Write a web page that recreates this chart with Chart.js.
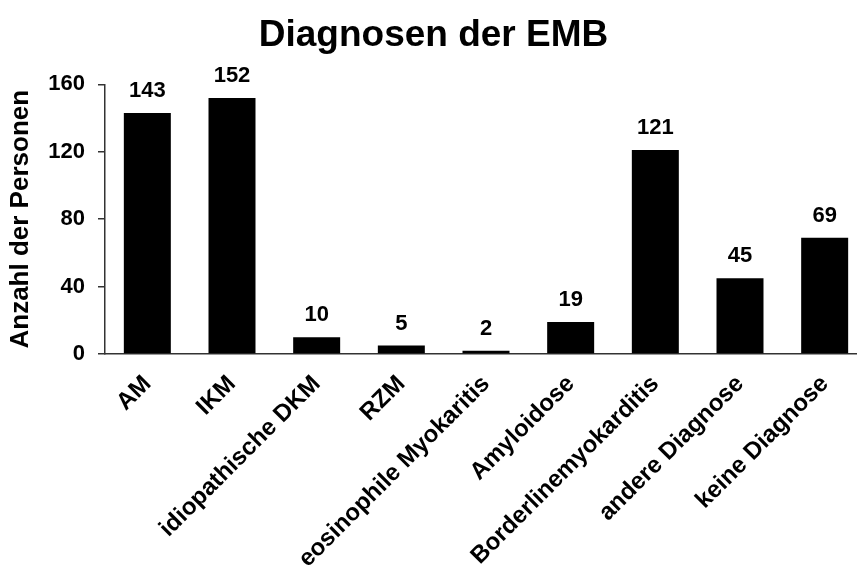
<!DOCTYPE html>
<html>
<head>
<meta charset="utf-8">
<script src="https://cdn.jsdelivr.net/npm/chart.js@4/dist/chart.umd.min.js"></script>
<style>
  html, body { margin: 0; padding: 0; background: #fff; overflow: hidden; }
  #wrap { width: 870px; height: 566px; }
</style>
</head>
<body>
<div id="wrap"><canvas id="c" width="870" height="566"></canvas></div>
<script>
// Diagnoses from endomyocardial biopsy (EMB)
const categories = [
  "AM",
  "IKM",
  "idiopathische DKM",
  "RZM",
  "eosinophile Myokaritis",
  "Amyloidose",
  "Borderlinemyokarditis",
  "andere Diagnose",
  "keine Diagnose"
];
const counts = [143, 152, 10, 5, 2, 19, 121, 45, 69];
const yTicks = [0, 40, 80, 120, 160];

const FONT = "'Liberation Sans', Arial, sans-serif";

// Writes each bar's count above it
const valueLabels = {
  id: 'valueLabels',
  afterDatasetsDraw(chart) {
    const ctx = chart.ctx;
    const meta = chart.getDatasetMeta(0);
    ctx.save();
    ctx.font = `bold 22px ${FONT}`;
    ctx.fillStyle = '#000';
    ctx.textAlign = 'center';
    ctx.textBaseline = 'alphabetic';
    meta.data.forEach((bar, i) => {
      ctx.fillText(String(counts[i]), bar.x, bar.y - 16);
    });
    ctx.restore();
  }
};

new Chart(document.getElementById('c'), {
  type: 'bar',
  data: {
    labels: categories,
    datasets: [{
      data: counts,
      backgroundColor: '#000',
      borderWidth: 0,
      barPercentage: 0.555,
      categoryPercentage: 1
    }]
  },
  options: {
    responsive: false,
    animation: false,
    layout: { padding: { left: 0, right: 3, top: 0, bottom: 0 } },
    plugins: {
      legend: { display: false },
      tooltip: { enabled: false },
      title: {
        display: true,
        text: 'Diagnosen der EMB',
        color: '#000',
        font: { family: FONT, size: 37, weight: 'bold', lineHeight: 1.2 },
        padding: { top: 14, bottom: 26 }
      }
    },
    scales: {
      x: {
        grid: { display: false, drawTicks: false },
        border: { display: true, color: '#333', width: 1.5 },
        ticks: {
          color: '#000',
          font: { family: FONT, size: 24, weight: 'bold' },
          minRotation: 45,
          maxRotation: 45,
          autoSkip: false,
          padding: 16
        },
        afterFit(scale) { scale.height = 212; }
      },
      y: {
        min: 0,
        max: 160,
        afterBuildTicks(scale) { scale.ticks = yTicks.map(v => ({ value: v })); },
        grid: { drawOnChartArea: false, drawTicks: true, tickLength: 7, color: '#333', lineWidth: 1.5 },
        border: { display: true, color: '#333', width: 1.5 },
        ticks: {
          color: '#000',
          font: { family: FONT, size: 22, weight: 'bold' },
          padding: 13
        },
        title: {
          display: true,
          text: 'Anzahl der Personen',
          color: '#000',
          font: { family: FONT, size: 26, weight: 'bold' },
          padding: { top: 5, bottom: 0 }
        },
        afterFit(scale) { scale.width = 105; }
      }
    }
  },
  plugins: [valueLabels]
});
</script>
</body>
</html>
